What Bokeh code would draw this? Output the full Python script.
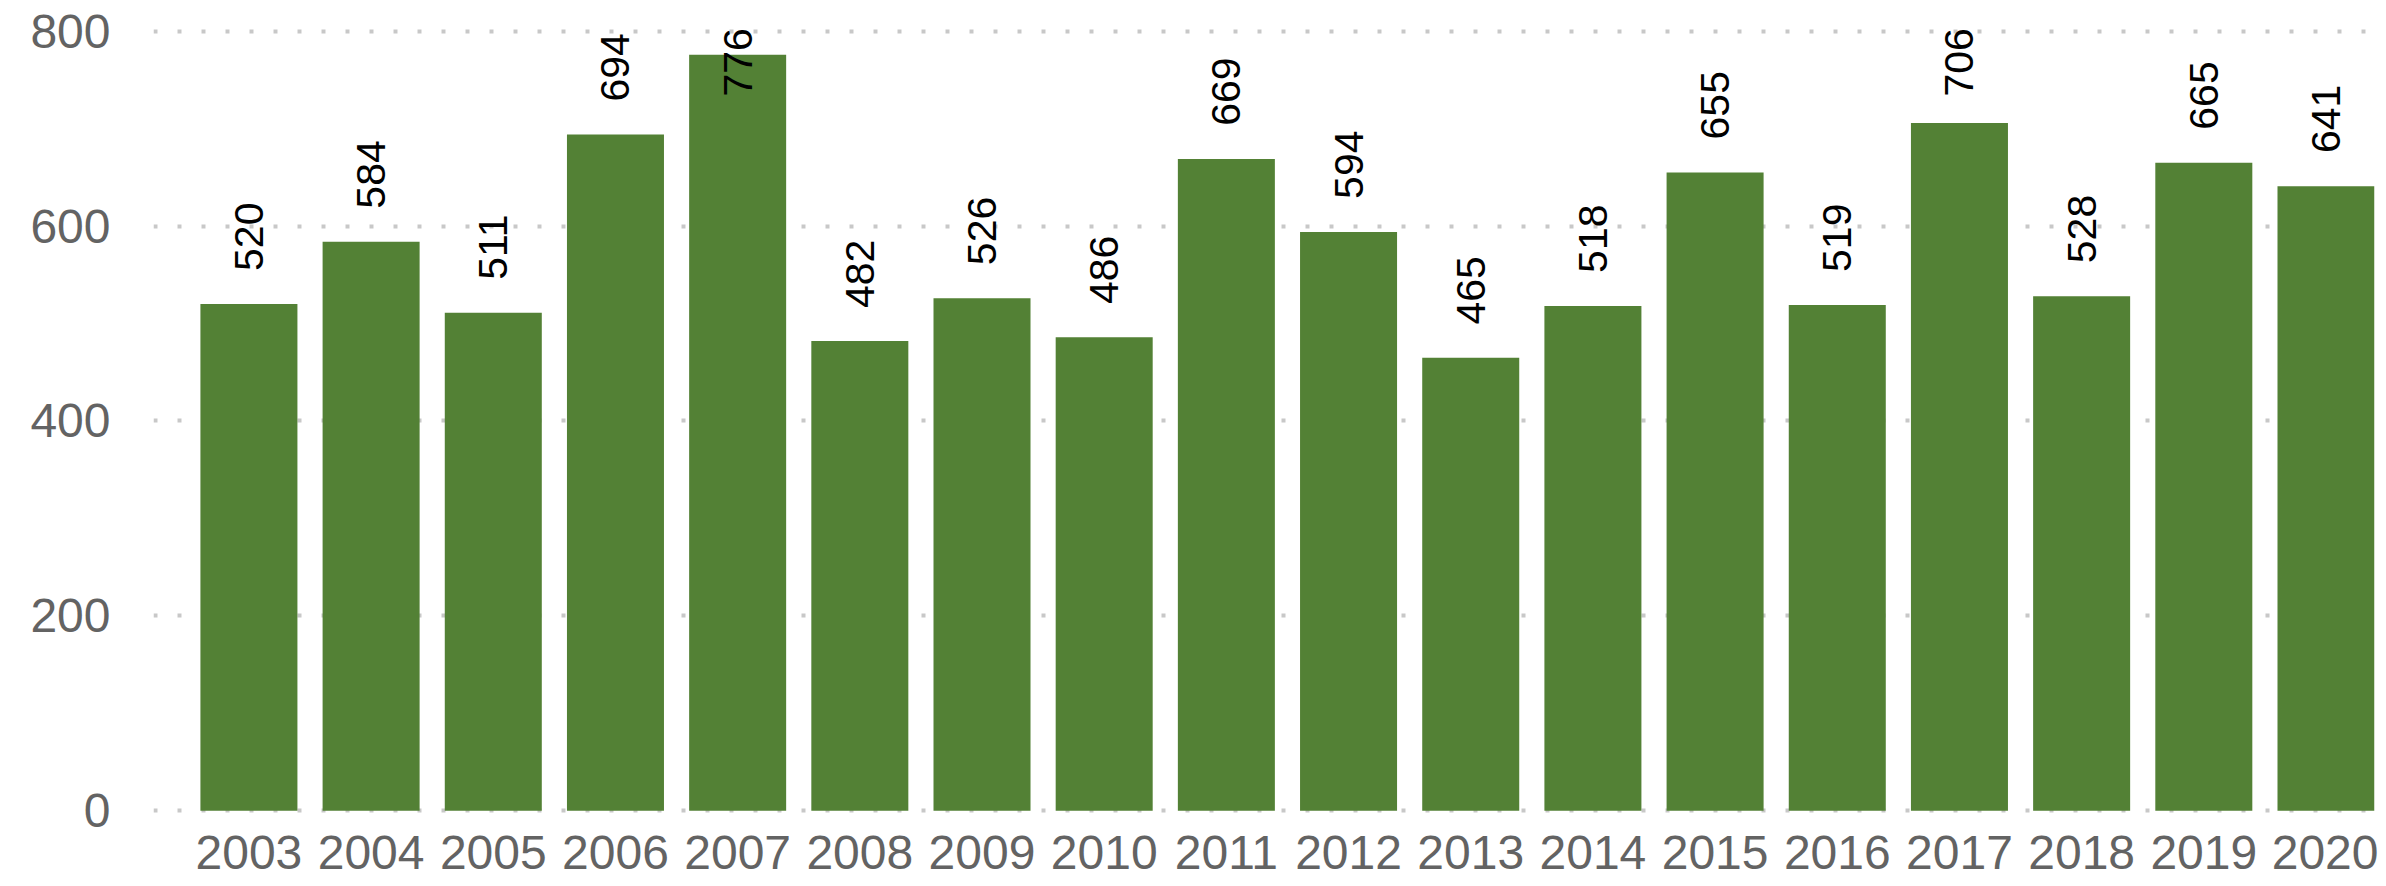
from bokeh.plotting import figure
from bokeh.models import ColumnDataSource, Range1d, FixedTicker
from bokeh.core.properties import value
from bokeh.embed import file_html
from bokeh.resources import INLINE

years = [2003, 2004, 2005, 2006, 2007, 2008, 2009, 2010, 2011, 2012,
         2013, 2014, 2015, 2016, 2017, 2018, 2019, 2020]
counts = [520, 584, 511, 694, 776, 482, 526, 486, 669, 594,
          465, 518, 655, 519, 706, 528, 665, 641]
y_ticks = [0, 200, 400, 600, 800]

label_gap = 34
label_cap = 733
label_y = [min(v + label_gap, label_cap) for v in counts]

src = ColumnDataSource(dict(x=years, top=counts, ly=label_y,
                            txt=[str(v) for v in counts]))

p = figure(width=2378, height=878, output_backend="svg", toolbar_location=None,
           x_range=Range1d(2002.219, 2020.397), y_range=Range1d(-5, 806))
p.min_border_left = 153
p.min_border_right = 4
p.min_border_top = 25
p.min_border_bottom = 63
p.outline_line_color = None
p.background_fill_color = "white"
p.border_fill_color = "white"

p.vbar(x="x", top="top", bottom=0, width=0.794, source=src,
       fill_color="#538135", line_color=None)

p.text(x="x", y="ly", text="txt", source=src, angle=1.5707963,
       text_align="left", text_baseline="middle",
       text_font=value("Liberation Sans"), text_font_size="41px",
       text_color="black")

p.xaxis.ticker = FixedTicker(ticks=years)
p.yaxis.ticker = FixedTicker(ticks=y_ticks)
for ax in (p.xaxis, p.yaxis):
    ax.axis_line_color = None
    ax.major_tick_line_color = None
    ax.minor_tick_line_color = None
    ax.major_tick_out = 0
    ax.major_tick_in = 0
    ax.major_label_text_font = "Liberation Sans"
    ax.major_label_text_font_size = "48px"
    ax.major_label_text_color = "#636363"
p.xaxis.major_label_standoff = 20
p.yaxis.major_label_standoff = 43

p.xgrid.grid_line_color = None
p.ygrid.ticker = FixedTicker(ticks=y_ticks)
p.ygrid.grid_line_color = "#c8c8c8"
p.ygrid.grid_line_width = 4
p.ygrid.grid_line_dash = "4 20"

open("out.html", "w").write(file_html(p, INLINE))
